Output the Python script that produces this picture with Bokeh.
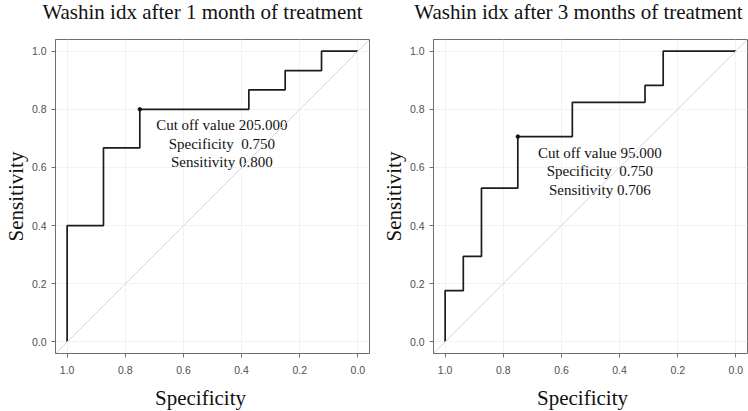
from bokeh.plotting import figure
from bokeh.layouts import row, column
from bokeh.models import Range1d, FixedTicker, Slope
from bokeh.core.properties import value
from bokeh.embed import file_html
from bokeh.resources import INLINE

# ROC curve vertices (specificity, sensitivity) after 1 month
spec_1m = [1.0, 1.0, 0.875, 0.875, 0.75, 0.75, 0.375, 0.375, 0.25, 0.25, 0.125, 0.125, 0.0]
sens_1m = [0.0, 0.4, 0.4, 0.667, 0.667, 0.8, 0.8, 0.867, 0.867, 0.933, 0.933, 1.0, 1.0]
cut_1m = {"value": 205.0, "spec": 0.750, "sens": 0.800}

# ROC curve vertices after 3 months
spec_3m = [1.0, 1.0, 0.9375, 0.9375, 0.875, 0.875, 0.75, 0.75, 0.5625, 0.5625,
           0.3125, 0.3125, 0.25, 0.25, 0.0]
sens_3m = [0.0, 0.176, 0.176, 0.294, 0.294, 0.529, 0.529, 0.706, 0.706, 0.824,
           0.824, 0.882, 0.882, 1.0, 1.0]
cut_3m = {"value": 95.0, "spec": 0.750, "sens": 0.706}

tick_values = [0.0, 0.2, 0.4, 0.6, 0.8, 1.0]
tick_labels = ["0.0", "0.2", "0.4", "0.6", "0.8", "1.0"]

SERIF = "Liberation Serif"
SANS = "Liberation Sans"
FRAME_GREY = "#6e6e6e"
HEAD_H = 38
FOOT_H = 31
TOTAL_H = 411


def text_strip(text, width, height, center_x, center_y, size):
    """A thin borderless strip holding one centred line of text."""
    h = figure(
        width=width, height=height, min_border=0,
        x_range=Range1d(0, width), y_range=Range1d(0, height),
        output_backend="svg", toolbar_location=None,
        background_fill_color="white", border_fill_color="white",
    )
    h.axis.visible = False
    h.grid.visible = False
    h.outline_line_color = None
    h.text([center_x], [center_y], text=[text],
           text_align="center", text_baseline="middle",
           text_font=value(SERIF), text_font_size=size, text_color="#111111")
    return h


def roc_panel(spec, sens, cut, width, border_left, border_right):
    p = figure(
        width=width, height=TOTAL_H - HEAD_H - FOOT_H,
        min_border_left=border_left, min_border_right=border_right,
        min_border_top=1, min_border_bottom=27,
        x_range=Range1d(1.04, -0.04), y_range=Range1d(-0.04, 1.04),
        output_backend="svg", toolbar_location=None,
        background_fill_color="white", border_fill_color="white",
    )
    p.outline_line_color = FRAME_GREY
    p.outline_line_width = 1

    for ax in (p.xaxis[0], p.yaxis[0]):
        ax.ticker = FixedTicker(ticks=tick_values)
        ax.major_label_overrides = dict(zip(tick_values, tick_labels))
        ax.axis_line_color = FRAME_GREY
        ax.major_tick_line_color = FRAME_GREY
        ax.major_tick_out = 4
        ax.major_tick_in = 0
        ax.minor_tick_line_color = None
        ax.major_label_text_font = SANS
        ax.major_label_text_font_size = "10.5px"
        ax.major_label_text_color = "#505050"

    p.xaxis.major_label_standoff = 8
    p.yaxis.axis_label = "Sensitivity"
    p.yaxis.axis_label_text_font = SERIF
    p.yaxis.axis_label_text_font_size = "21px"
    p.yaxis.axis_label_text_font_style = "normal"
    p.yaxis.axis_label_text_color = "#111111"
    p.yaxis.major_label_standoff = 5
    p.yaxis.axis_label_standoff = 1
    p.yaxis.major_label_orientation = "horizontal"

    p.grid.grid_line_color = "#f2f2f2"
    p.grid.grid_line_width = 1

    # chance diagonal: sensitivity = 1 - specificity
    p.add_layout(Slope(gradient=-1, y_intercept=1, line_color="#d8d8d8", line_width=1))

    p.line(spec, sens, line_color="#1c1c1c", line_width=1.7)
    p.scatter([cut["spec"]], [cut["sens"]], size=3.5, color="#111111")

    lines = [
        f"Cut off value {cut['value']:.3f}",
        f"Specificity\u00a0 {cut['spec']:.3f}",
        f"Sensitivity {cut['sens']:.3f}",
    ]
    for i, txt in enumerate(lines):
        p.text([cut["spec"]], [cut["sens"]], text=[txt],
               x_offset=82, y_offset=16 + 18.5 * i,
               text_align="center", text_baseline="middle",
               text_font=value(SERIF), text_font_size="15px", text_color="#111111")
    return p


LEFT_W, RIGHT_W = 378, 370

head_left = text_strip("Washin idx after 1 month of treatment", LEFT_W, HEAD_H, 202, HEAD_H - 11, "21px")
head_right = text_strip("Washin idx after 3 months of treatment", RIGHT_W, HEAD_H, 200, HEAD_H - 11, "21px")
left = roc_panel(spec_1m, sens_1m, cut_1m, LEFT_W, 55, 9)
right = roc_panel(spec_3m, sens_3m, cut_3m, RIGHT_W, 54, 1)
foot_left = text_strip("Specificity", LEFT_W, FOOT_H, 200, 14, "21px")
foot_right = text_strip("Specificity", RIGHT_W, FOOT_H, 204, 14, "21px")

layout = column(row(head_left, head_right, spacing=0),
                row(left, right, spacing=0),
                row(foot_left, foot_right, spacing=0), spacing=0)
open("out.html", "w").write(file_html(layout, INLINE))
